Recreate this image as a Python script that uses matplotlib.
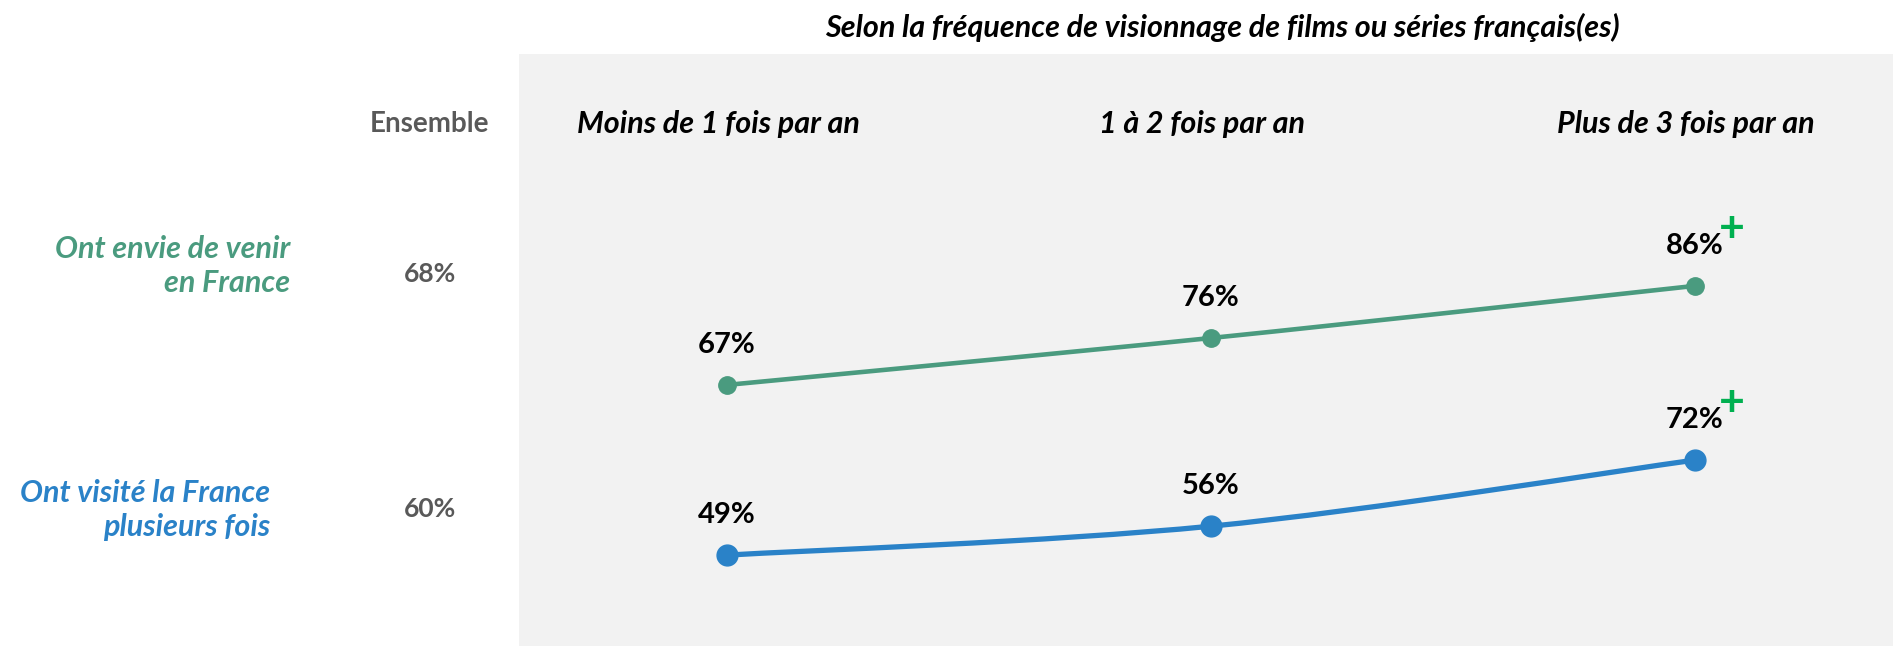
import matplotlib.pyplot as plt
import matplotlib.transforms as mtransforms
from matplotlib.path import Path
from matplotlib.patches import PathPatch

plt.rcParams["font.family"] = ["Lato", "DejaVu Sans"]

W, H = 1893, 646

title = "Selon la fréquence de visionnage de films ou séries français(es)"
categories = ["Moins de 1 fois par an", "1 à 2 fois par an", "Plus de 3 fois par an"]
row_labels = ["Ont envie de venir\nen France", "Ont visité la France\nplusieurs fois"]
ensemble = [68, 60]
envie = [67, 76, 86]
visite = [49, 56, 72]
envie_sig = [False, False, True]
visite_sig = [False, False, True]

GREEN = "#4A9B7F"
BLUE = "#2A82C8"
GREY_TXT = "#595959"
PLUS = "#00B050"
PANEL = "#F2F2F2"


def smooth_path(xs, ys):
    # Catmull-Rom style cubic Bezier through the points (like Excel's smoothed line)
    pts = list(zip(xs, ys))
    ext = [pts[0]] + pts + [pts[-1]]
    verts = [pts[0]]
    codes = [Path.MOVETO]
    for i in range(1, len(ext) - 2):
        p0, p1, p2, p3 = ext[i - 1], ext[i], ext[i + 1], ext[i + 2]
        c1 = (p1[0] + (p2[0] - p0[0]) / 6, p1[1] + (p2[1] - p0[1]) / 6)
        c2 = (p2[0] - (p3[0] - p1[0]) / 6, p2[1] - (p3[1] - p1[1]) / 6)
        verts += [c1, c2, p2]
        codes += [Path.CURVE4] * 3
    return Path(verts, codes)


def fx(px):
    return px / W


def fy(py):
    return 1 - py / H


fig = plt.figure(figsize=(W / 100, H / 100), dpi=100)
fig.patch.set_facecolor("white")

ax = fig.add_axes([fx(519), 0, 1 - fx(519), (H - 54) / H])
ax.set_facecolor(PANEL)
ax2 = ax.twinx()

x = list(range(len(categories)))
ax.set_xlim(-0.43, 2.41)
ax.set_ylim(16.9, 130.5)
ax2.set_ylim(27, 170.3)

for a in (ax, ax2):
    for s in a.spines.values():
        s.set_visible(False)
    a.set_xticks([])
    a.set_yticks([])

for a, vals, sig, color, lw, ms in [
    (ax, envie, envie_sig, GREEN, 3.3, 12.5),
    (ax2, visite, visite_sig, BLUE, 3.8, 15),
]:
    a.add_patch(PathPatch(smooth_path(x, vals), fill=False, edgecolor=color,
                          linewidth=lw, capstyle="round"))
    a.plot(x, vals, "o", color=color, markersize=ms, zorder=3)
    for xi, v, s in zip(x, vals, sig):
        a.annotate(f"{v}%", (xi, v), xytext=(0, 29), textcoords="offset points",
                   ha="center", va="center", fontsize=21, fontweight="bold", color="black")
        if s:
            a.annotate("+", (xi, v), xytext=(27, 41), textcoords="offset points",
                       ha="center", va="center", fontsize=32, fontweight="bold", color=PLUS)

# column headers above each category
blend = mtransforms.blended_transform_factory(ax.transData, fig.transFigure)
for xi, cat in zip(x, categories):
    fig.text(xi - 0.018, fy(124), cat, transform=blend, ha="center", va="center",
             fontsize=22, fontweight="bold", style="italic", color="black")

fig.text(fx(1222), fy(27), title, ha="center", va="center",
         fontsize=22, fontweight="bold", style="italic", color="black")

fig.text(fx(430), fy(124), "Ensemble", ha="center", va="center",
         fontsize=20, fontweight="bold", color=GREY_TXT)
for val, py in zip(ensemble, [274, 509]):
    fig.text(fx(430), fy(py), f"{val}%", ha="center", va="center",
             fontsize=19, fontweight="bold", color=GREY_TXT)

for label, color, px, py in zip(row_labels, [GREEN, BLUE], [290, 270], [266, 510]):
    fig.text(fx(px), fy(py), label, ha="right", va="center", multialignment="right",
             fontsize=22, fontweight="bold", style="italic", color=color, linespacing=1.25)

fig.savefig("out.png", dpi=100)
